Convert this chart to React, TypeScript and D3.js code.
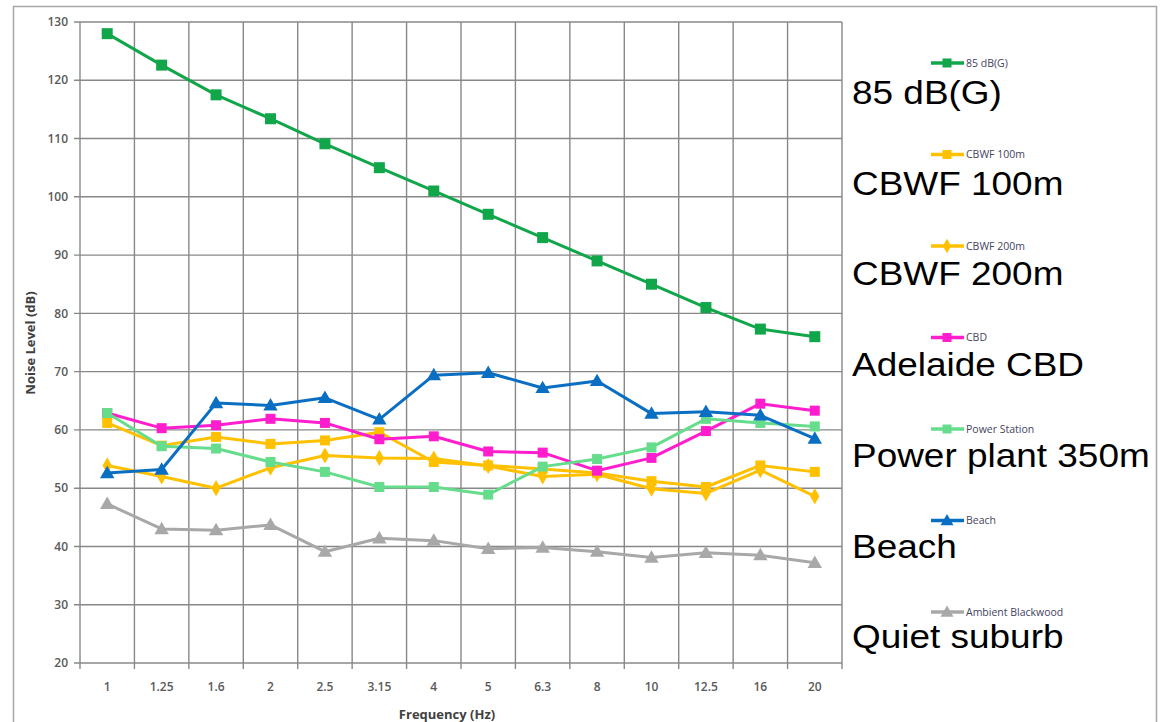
import React from "react";
import * as d3 from "d3";

const freqs = ["1", "1.25", "1.6", "2", "2.5", "3.15", "4", "5", "6.3", "8", "10", "12.5", "16", "20"];
const yTicks = [20, 30, 40, 50, 60, 70, 80, 90, 100, 110, 120, 130];

const g85 = [128, 122.6, 117.5, 113.4, 109.1, 105, 101, 97, 93, 89, 85, 81, 77.3, 76];
const cbwf100 = [61.2, 57.3, 58.8, 57.6, 58.2, 59.6, 54.5, 53.9, 53.3, 52.6, 51.2, 50.2, 53.9, 52.8];
const cbwf200 = [53.9, 52.0, 50.0, 53.5, 55.6, 55.2, 55.1, 53.8, 52.0, 52.4, 49.9, 49.1, 53.1, 48.6];
const cbd = [62.9, 60.3, 60.8, 61.9, 61.2, 58.4, 58.9, 56.3, 56.1, 53.0, 55.2, 59.8, 64.5, 63.3];
const power = [62.9, 57.2, 56.8, 54.5, 52.8, 50.2, 50.2, 48.9, 53.7, 55.0, 57.0, 61.9, 61.2, 60.6];
const beach = [52.6, 53.2, 64.6, 64.2, 65.5, 61.8, 69.4, 69.8, 67.2, 68.4, 62.8, 63.1, 62.5, 58.5];
const ambient = [47.3, 43.0, 42.8, 43.7, 39.1, 41.4, 41.0, 39.6, 39.8, 39.1, 38.1, 38.9, 38.5, 37.2];

const seriesNames = ["85 dB(G)", "CBWF 100m", "CBWF 200m", "CBD", "Power Station", "Beach", "Ambient Blackwood"];
const bigLabels = ["85 dB(G)", "CBWF 100m", "CBWF 200m", "Adelaide CBD", "Power plant 350m", "Beach", "Quiet suburb"];
const colors = ["#12a64b", "#ffc000", "#ffc000", "#ff1dce", "#66dd8c", "#0a6fc2", "#a8a8a8"];
const shapes = ["square", "square", "diamond", "square", "square", "triangle", "triangle"];
const allValues = [g85, cbwf100, cbwf200, cbd, power, beach, ambient];

const axisFont = "'Open Sans', Lato, sans-serif";

const Marker = ({ shape, x, y, color, size }) => {
  if (shape === "square") {
    return <rect x={x - size / 2} y={y - size / 2} width={size} height={size} fill={color} />;
  }
  const type = shape === "diamond" ? d3.symbolDiamond : d3.symbolTriangle;
  const area = shape === "diamond" ? size * size * 0.75 : size * size * 0.9;
  const dy = shape === "triangle" ? 1 : 0;
  return <path d={d3.symbol(type, area)()} transform={`translate(${x},${y + dy})`} fill={color} />;
};

const App = () => {
  const width = 1164;
  const height = 722;
  const x = d3.scaleBand().domain(freqs).range([80, 842]).padding(0);
  const y = d3.scaleLinear().domain([20, 130]).range([663, 22]);
  const cx = (f) => x(f) + x.bandwidth() / 2;
  const line = d3.line().x((d, i) => cx(freqs[i])).y((d) => y(d));
  const bounds = [...freqs.map((f) => x(f)), 842];

  return (
    <svg width={width} height={height} style={{ position: "absolute", left: 0, top: 0 }}>
      <rect x={0} y={0} width={width} height={height} fill="#fff" />
      <rect x={13.5} y={6.5} width={1143} height={740} fill="none" stroke="#a6a6a6" strokeWidth={1.5} />

      {/* grid */}
      {yTicks.map((t) => (
        <line key={"gy" + t} x1={74} x2={842} y1={y(t)} y2={y(t)} stroke="#888" strokeWidth={1.4} />
      ))}
      {bounds.map((b, i) => (
        <line key={"gx" + i} x1={b} x2={b} y1={y(130)} y2={y(20) + 6} stroke="#888" strokeWidth={1.4} />
      ))}

      {/* tick labels */}
      {yTicks.map((t) => (
        <text key={"ty" + t} x={68} y={y(t)} dy="0.35em" textAnchor="end" fontFamily={axisFont} fontSize={12} fontWeight={600} fill="#595959">
          {t}
        </text>
      ))}
      {freqs.map((f) => (
        <text key={"tx" + f} x={cx(f)} y={687} dy="0.35em" textAnchor="middle" fontFamily={axisFont} fontSize={12} fontWeight={600} fill="#595959">
          {f}
        </text>
      ))}
      <text x={447} y={714} dy="0.35em" textAnchor="middle" fontFamily={axisFont} fontSize={13} fontWeight={700} fill="#404040">
        Frequency (Hz)
      </text>
      <text transform={`translate(30,343) rotate(-90)`} dy="0.35em" textAnchor="middle" fontFamily={axisFont} fontSize={13} fontWeight={700} fill="#404040">
        Noise Level (dB)
      </text>

      {/* series */}
      {allValues.map((vals, s) => (
        <g key={"s" + s}>
          <path d={line(vals)} fill="none" stroke={colors[s]} strokeWidth={3} strokeLinejoin="round" />
          {vals.map((v, i) => (
            <Marker key={i} shape={shapes[s]} x={cx(freqs[i])} y={y(v)} color={colors[s]} size={s === 0 ? 11 : 10} />
          ))}
        </g>
      ))}

      {/* small legend */}
      {seriesNames.map((n, i) => {
        const ly = 63 + i * 91.5;
        return (
          <g key={"lg" + i}>
            <line x1={931} x2={964} y1={ly} y2={ly} stroke={colors[i]} strokeWidth={3.5} />
            <Marker shape={shapes[i]} x={947} y={ly} color={colors[i]} size={9} />
            <text x={966} y={ly} dy="0.35em" fontFamily={axisFont} fontSize={10.5} fill="#44445e">
              {n}
            </text>
          </g>
        );
      })}

      {/* large overlay labels */}
      {bigLabels.map((n, i) => (
        <text key={"bl" + i} transform={`translate(852,${104 + i * 90.7}) scale(1.12,1)`} fontFamily="'Liberation Sans', Arial, sans-serif" fontSize={33} fill="#000">
          {n}
        </text>
      ))}
    </svg>
  );
};

export default App;
